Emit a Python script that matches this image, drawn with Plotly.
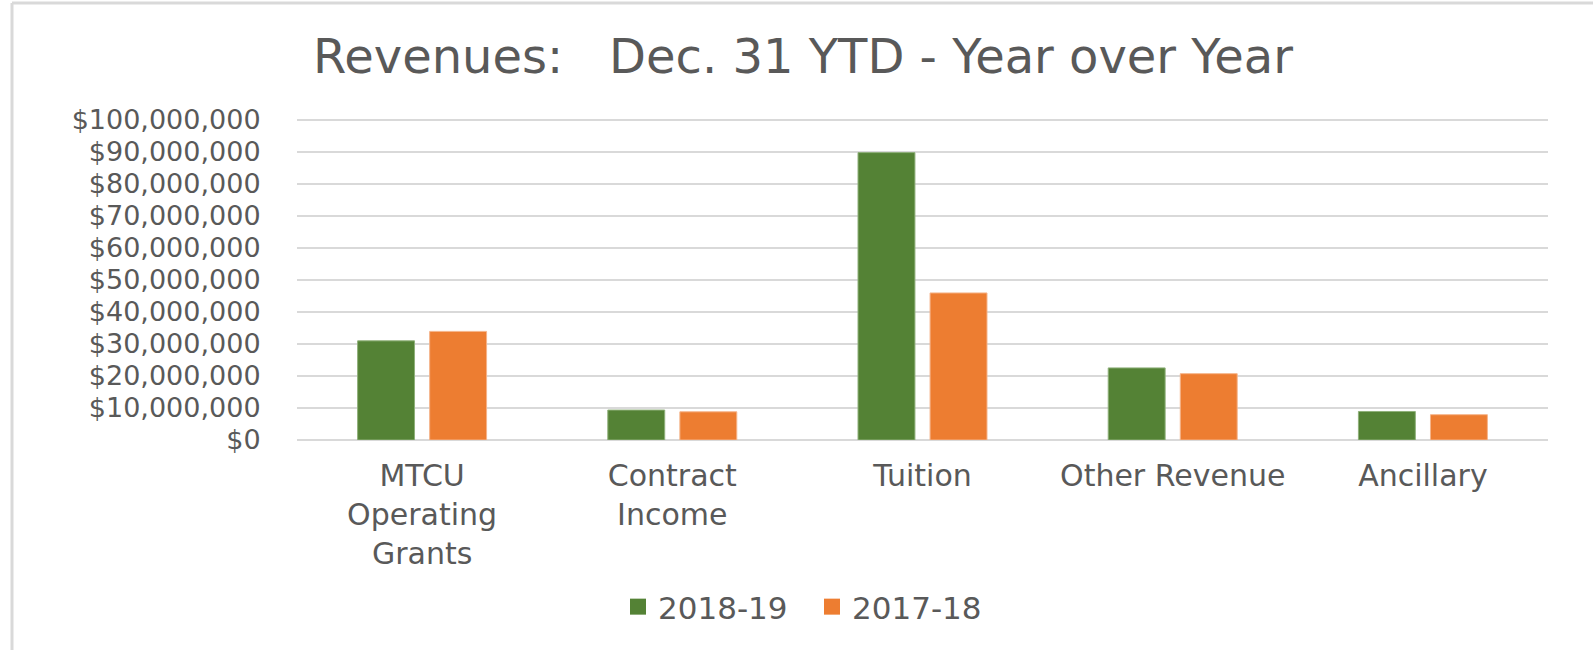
import plotly.graph_objects as go

categories = ["MTCU<br>Operating<br>Grants", "Contract<br>Income", "Tuition", "Other Revenue", "Ancillary"]
series_names = ["2018-19", "2017-18"]
values_2018_19 = [30950000, 9350000, 89700000, 22500000, 8900000]
values_2017_18 = [33900000, 8800000, 45900000, 20700000, 7900000]
tick_values = [0, 10000000, 20000000, 30000000, 40000000, 50000000, 60000000, 70000000, 80000000, 90000000, 100000000]
tick_labels = ["$" + format(v, ",") for v in tick_values]

GREEN = "#548235"
ORANGE = "#ED7D31"
TEXT = "#595959"
GRID = "#d9d9d9"
colors = [GREEN, ORANGE]
edge_colors = ["#8fb07a", "#f5b48a"]
series_values = [values_2018_19, values_2017_18]

W, H = 1593, 650
L, R, T, B = 297, 45, 118, 210
YMAX = 100500000

fig = go.Figure()
for name, vals, c, ec in zip(series_names, series_values, colors, edge_colors):
    fig.add_trace(go.Bar(name=name, x=categories, y=vals, showlegend=False, legendgroup=name,
                         marker=dict(color=c, line=dict(color=ec, width=1))))
# legend entries (square swatches like the original)
for name, c in zip(series_names, colors):
    fig.add_trace(go.Scatter(name=name, x=[None], y=[None], mode="markers", legendgroup=name,
                             marker=dict(symbol="square", size=17, color=c), showlegend=True))

pw = W - L - R
ph = H - T - B
def px_x(x):
    return (x - L) / pw
def px_y(y):
    return (H - B - y) / ph

fig.update_layout(
    width=W, height=H,
    margin=dict(l=L, r=R, t=T, b=B, autoexpand=False),
    paper_bgcolor="white", plot_bgcolor="white",
    barmode="group", bargap=0.424, bargroupgap=0.21,
    title=dict(text="Revenues:\u00a0\u00a0 Dec. 31 YTD - Year over Year",
               font=dict(family="DejaVu Sans", size=48, color=TEXT),
               x=803 / W, xanchor="center", xref="container",
               y=1 - 56 / H, yanchor="middle", yref="container"),
    font=dict(family="DejaVu Sans", color=TEXT),
    legend=dict(orientation="h", x=812 / W, xanchor="center", xref="container",
                y=1 - 607 / H, yanchor="middle", yref="container",
                font=dict(family="DejaVu Sans", size=31, color=TEXT),
                traceorder="normal", itemsizing="trace", entrywidth=149, entrywidthmode="pixels"),
    xaxis=dict(showgrid=False, showline=False, ticks="outside", ticklen=9,
               tickcolor="rgba(0,0,0,0)", tickfont=dict(family="DejaVu Sans", size=30, color=TEXT)),
    yaxis=dict(range=[0, YMAX], tickvals=tick_values, ticktext=tick_labels,
               showgrid=True, gridcolor=GRID, gridwidth=2, zeroline=True, zerolinecolor=GRID,
               zerolinewidth=2, ticks="outside", ticklen=30, tickcolor="rgba(0,0,0,0)",
               tickfont=dict(family="DejaVu Sans", size=27, color=TEXT)),
    shapes=[
        dict(type="line", xref="paper", yref="paper", x0=px_x(12), x1=px_x(12),
             y0=px_y(3), y1=px_y(700), line=dict(color=GRID, width=3)),
        dict(type="line", xref="paper", yref="paper", x0=px_x(12), x1=px_x(1700),
             y0=px_y(3), y1=px_y(3), line=dict(color=GRID, width=3)),
    ],
)

fig.write_html("out.html", config={"displayModeBar": False},
               post_script="document.body.style.margin='0';")
